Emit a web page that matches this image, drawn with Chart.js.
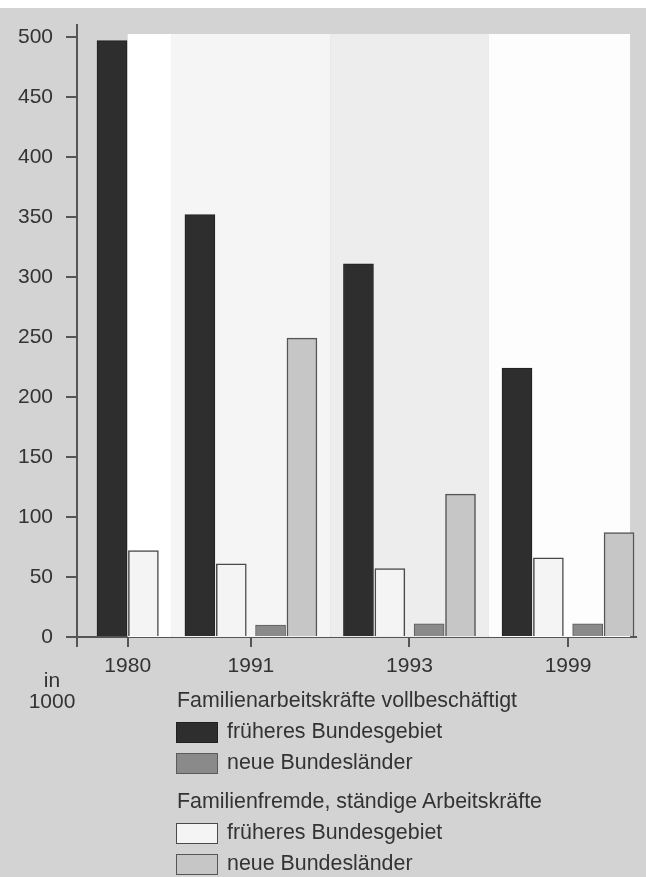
<!DOCTYPE html>
<html lang="de">
<head>
<meta charset="utf-8">
<script src="https://cdn.jsdelivr.net/npm/chart.js@4.4.1/dist/chart.umd.min.js"></script>
<style>
  html, body { margin: 0; padding: 0; }
  body {
    width: 646px; height: 877px; position: relative; overflow: hidden;
    background: #d3d3d3; color: #333;
    font-family: 'Liberation Sans', Arial, sans-serif;
  }
  #strip { position: absolute; left: 0; top: 0; width: 646px; height: 8px; background: #fff; }
  #chart { position: absolute; left: 0; top: 0; }
  #unit { position: absolute; left: 22px; top: 669px; width: 60px; text-align: center; font-size: 21px; line-height: 21px; }
  #legend { position: absolute; left: 177px; top: 685px; font-size: 21.4px; line-height: 31px; }
  .head { height: 31px; white-space: nowrap; }
  .head.second { margin-top: 8px; }
  .item { height: 31px; display: flex; white-space: nowrap; margin-left: -1px; }
  .box { width: 40px; height: 19px; margin-top: 6px; margin-right: 9px; border: 1px solid #555; }
</style>
</head>
<body>
<div id="strip"></div>
<canvas id="chart" width="646" height="877"></canvas>
<div id="unit">in<br>1000</div>
<div id="legend"></div>
<script>
// Landwirtschaftliche Arbeitskräfte in 1000
const years = ['1980', '1991', '1993', '1999'];
const familieFrueher = [497, 352, 311, 224];   // Familienarbeitskräfte, früheres Bundesgebiet
const familieNeue = [null, 10, 11, 11];        // Familienarbeitskräfte, neue Bundesländer
const fremdFrueher = [72, 61, 57, 66];         // Familienfremde, früheres Bundesgebiet
const fremdNeue = [null, 249, 119, 87];        // Familienfremde, neue Bundesländer
const yTicks = [0, 50, 100, 150, 200, 250, 300, 350, 400, 450, 500];

const headings = ['Familienarbeitskräfte vollbeschäftigt', 'Familienfremde, ständige Arbeitskräfte'];

// bar order inside a year: dark, white, mid grey, light grey
const series = [
    { label: 'früheres Bundesgebiet', values: familieFrueher, group: 0, region: 'west', color: '#2e2e2e', border: '#202020', width: 1 },
    { label: 'früheres Bundesgebiet', values: fremdFrueher, group: 1, region: 'west', color: '#f4f4f4', border: '#4a4a4a', width: 1.5 },
    { label: 'neue Bundesländer', values: familieNeue, group: 0, region: 'ost', color: '#8a8a8a', border: '#5a5a5a', width: 1 },
    { label: 'neue Bundesländer', values: fremdNeue, group: 1, region: 'ost', color: '#c6c6c6', border: '#555555', width: 1.5 }
];

// years without a value get no slot, so 1980 is a narrow group
const BAR_STEP = 1, REGION_GAP = 0.25, GROUP_GAP = 0.8;
const points = series.map(() => []);
const groups = [];
let pos = 0;
years.forEach((year, i) => {
    let first = null, last = null, prevRegion = null;
    series.forEach((s, k) => {
        const v = s.values[i];
        if (v == null) return;
        if (last !== null) pos += BAR_STEP + (s.region !== prevRegion ? REGION_GAP : 0);
        if (first === null) first = pos;
        points[k].push({ x: pos, y: v });
        last = pos;
        prevRegion = s.region;
    });
    groups.push({ year: year, first: first, last: last, center: (first + last) / 2 });
    pos = last + BAR_STEP + GROUP_GAP;
});

const bandColors = ['#ffffff', '#f5f5f5', '#ededed', '#fdfdfd'];

const bands = {
    id: 'bands',
    beforeDatasetsDraw(chart) {
        const ctx = chart.ctx;
        const x = chart.scales.x, y = chart.scales.y;
        const top = y.getPixelForValue(502.5), bottom = y.getPixelForValue(0);
        ctx.save();
        groups.forEach((g, i) => {
            const left = i === 0 ? g.center : (groups[i - 1].last + g.first) / 2;
            const right = i === groups.length - 1 ? g.last + 0.35 : (g.last + groups[i + 1].first) / 2;
            const l = x.getPixelForValue(left), r = x.getPixelForValue(right);
            ctx.fillStyle = bandColors[i % bandColors.length];
            ctx.fillRect(l, top, r - l, bottom - top);
        });
        ctx.restore();
    }
};

const font = { family: "'Liberation Sans', Arial, sans-serif", size: 21 };

new Chart(document.getElementById('chart'), {
    type: 'bar',
    data: {
        datasets: series.map((s, k) => ({
            label: s.label,
            data: points[k],
            backgroundColor: s.color,
            borderColor: s.border,
            borderWidth: s.width,
            borderSkipped: 'bottom',
            barThickness: 30,
            grouped: false
        }))
    },
    options: {
        responsive: false,
        animation: false,
        layout: { padding: { left: 0, top: 25, right: 10, bottom: 200 } },
        plugins: { legend: { display: false }, tooltip: { enabled: false }, title: { display: false } },
        scales: {
            x: {
                type: 'linear',
                min: groups[0].first - 1.115,
                max: groups[groups.length - 1].last + 0.54,
                offset: false,
                z: 1,
                grid: { offset: false, drawOnChartArea: false, drawTicks: true, tickLength: 10, color: '#555', lineWidth: 2 },
                border: { display: true, color: '#555', width: 2 },
                ticks: {
                    autoSkip: false, maxRotation: 0, padding: 7, color: '#333', font: font,
                    callback: (value, index) => index === 0 ? '' : groups[index - 1].year
                },
                afterBuildTicks: scale => {
                    scale.ticks = [{ value: scale.min }].concat(groups.map(g => ({ value: g.center })));
                },
                afterFit: scale => {
                    scale.height = 40;
                    scale.paddingLeft = 0;
                    scale.paddingRight = 0;
                }
            },
            y: {
                min: 0,
                max: 510,
                grid: { drawOnChartArea: false, drawTicks: true, tickLength: 11, color: '#555', lineWidth: 2 },
                border: { display: true, color: '#555', width: 2 },
                ticks: { autoSkip: false, padding: 13, color: '#333', font: font },
                afterBuildTicks: scale => {
                    scale.ticks = yTicks.map(v => ({ value: v }));
                },
                afterFit: scale => {
                    scale.width = 77;
                    scale.paddingTop = 0;
                    scale.paddingBottom = 0;
                }
            }
        }
    },
    plugins: [bands]
});

// legend: two headings, each followed by its two series
const legend = document.getElementById('legend');
headings.forEach((h, gi) => {
    const head = document.createElement('div');
    head.className = 'head' + (gi > 0 ? ' second' : '');
    head.textContent = h;
    legend.appendChild(head);
    series.filter(s => s.group === gi).forEach(s => {
        const row = document.createElement('div');
        row.className = 'item';
        const box = document.createElement('span');
        box.className = 'box';
        box.style.background = s.color;
        box.style.borderColor = s.border;
        const txt = document.createElement('span');
        txt.textContent = s.label;
        row.appendChild(box);
        row.appendChild(txt);
        legend.appendChild(row);
    });
});
</script>
</body>
</html>
